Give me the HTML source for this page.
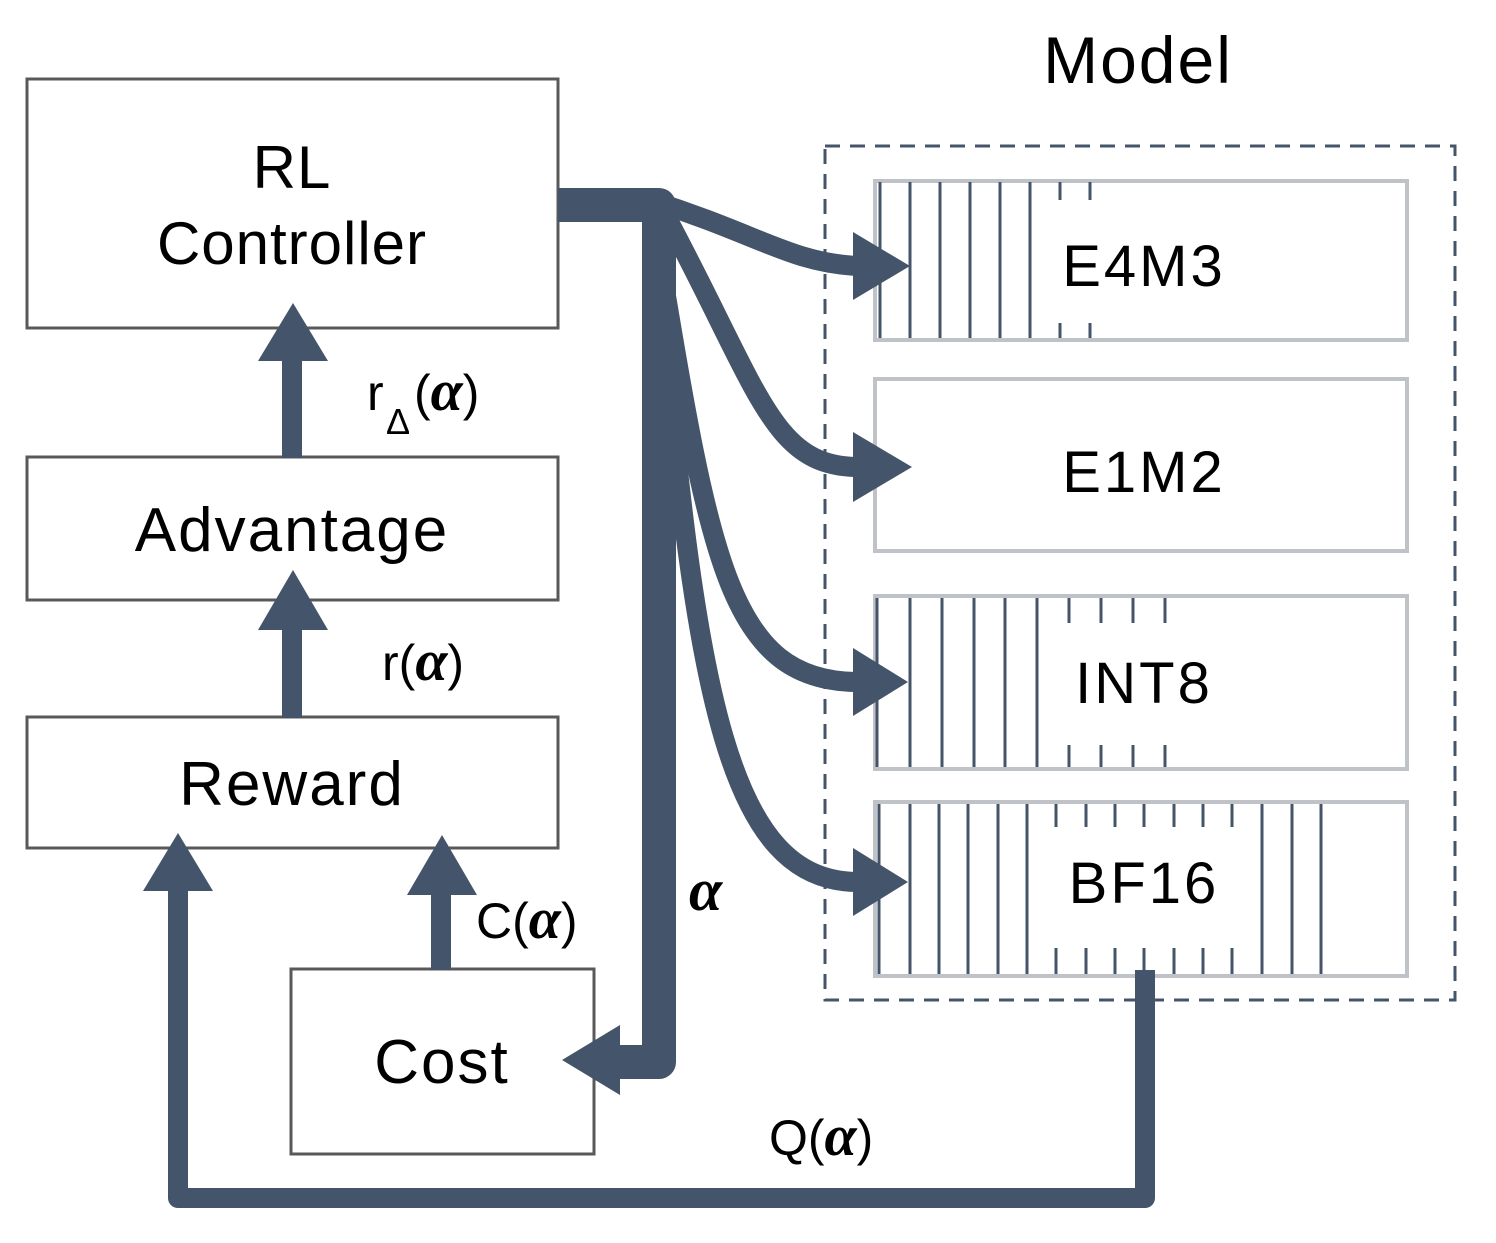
<!DOCTYPE html>
<html><head><meta charset="utf-8"><style>
html,body{margin:0;padding:0;background:#fff;}
svg{display:block;}
text{font-family:"Liberation Sans",sans-serif;fill:#000;}
.a{font-family:"Liberation Serif",serif;font-weight:bold;font-style:italic;font-size:58px;}
</style></head><body>
<svg width="1496" height="1243" viewBox="0 0 1496 1243" xmlns="http://www.w3.org/2000/svg">
<g fill="none" stroke="#595959" stroke-width="3">
<rect x="27" y="79" width="531" height="249"/>
<rect x="27" y="457" width="531" height="143"/>
<rect x="27" y="717" width="531" height="131"/>
<rect x="291" y="969" width="303" height="185"/>
</g>
<rect x="825" y="146" width="630" height="854" fill="none" stroke="#44546a" stroke-width="3" stroke-dasharray="15,10"/>
<g fill="none" stroke="#bfc3c8" stroke-width="4">
<rect x="875" y="181" width="532" height="159"/>
<rect x="875" y="379" width="532" height="172"/>
<rect x="875" y="596" width="532" height="173"/>
<rect x="875" y="802" width="532" height="174"/>
</g>
<g stroke="#44546a" stroke-width="3">
<path d="M880 182V338M910 182V338M940 182V338M970 182V338M1000 182V338M1030 182V338"/>
<path d="M1060 182V200M1090 182V200M1060 323V338M1090 323V338"/>
<path d="M877 598V767M910 598V767M942 598V767M974 598V767M1005 598V767M1037 598V767"/>
<path d="M1069 598V623M1101 598V623M1133 598V623M1165 598V623M1069 745V767M1101 745V767M1133 745V767M1165 745V767"/>
<path d="M879 804V974M910 804V974M939 804V974M968 804V974M998 804V974M1027 804V974M1262 804V974M1292 804V974M1321 804V974"/>
<path d="M1056 804V827M1086 804V827M1115 804V827M1144 804V827M1174 804V827M1203 804V827M1232 804V827"/>
<path d="M1056 948V974M1086 948V974M1115 948V974M1144 948V974M1174 948V974M1203 948V974M1232 948V974"/>
</g>
<g fill="#44546a">
<rect x="282" y="358" width="20" height="100"/>
<polygon points="258,361 328,361 293,303"/>
<rect x="282" y="628" width="20" height="90"/>
<polygon points="258,630 328,630 293,570"/>
<rect x="431" y="892" width="20" height="78"/>
<polygon points="407,895 477,895 442,835"/>
<polygon points="143,891 213,891 178,833"/>
<polygon points="620,1025 620,1095 562,1060"/>
<polygon points="853,232 853,300 910,266"/>
<polygon points="853,432 853,502 912,467"/>
<polygon points="853,648 853,716 908,682"/>
<polygon points="853,848 853,916 908,882"/>
</g>
<g fill="none" stroke="#44546a" stroke-linejoin="round">
<g stroke-width="20">
<path d="M650 200 C760 235 790 262 856 266"/>
<path d="M660 205 C760 390 770 465 856 467"/>
<path d="M660 260 C710 560 730 680 856 682"/>
<path d="M660 280 C695 700 730 880 856 882"/>
</g>
<path d="M558 205 H659 V1062 H618" stroke-width="34"/>
<path d="M1145 970 V1198 H178 V888" stroke-width="20"/>
</g>
<text x="1138" y="83" font-size="66" text-anchor="middle" letter-spacing="2">Model</text>
<text x="292" y="188" font-size="60" text-anchor="middle" letter-spacing="1">RL</text>
<text x="292" y="264" font-size="60" text-anchor="middle" letter-spacing="1">Controller</text>
<text x="292" y="551" font-size="62" text-anchor="middle" letter-spacing="2">Advantage</text>
<text x="292" y="805" font-size="62" text-anchor="middle" letter-spacing="2">Reward</text>
<text x="442" y="1083" font-size="62" text-anchor="middle" letter-spacing="2">Cost</text>
<text x="1144" y="286" font-size="58" text-anchor="middle" letter-spacing="3">E4M3</text>
<text x="1144" y="492" font-size="58" text-anchor="middle" letter-spacing="3">E1M2</text>
<text x="1144" y="703" font-size="58" text-anchor="middle" letter-spacing="3">INT8</text>
<text x="1144" y="903" font-size="58" text-anchor="middle" letter-spacing="3">BF16</text>
<text x="367" y="410" font-size="50">r</text>
<text x="386" y="434" font-size="36">Δ</text>
<text x="414" y="410" font-size="50">(<tspan class="a">α</tspan>)</text>
<text x="382" y="680" font-size="50">r(<tspan class="a">α</tspan>)</text>
<text x="476" y="938" font-size="50">C(<tspan class="a">α</tspan>)</text>
<text x="769" y="1155" font-size="50">Q(<tspan class="a">α</tspan>)</text>
<text x="689" y="910" class="a" style="font-size:60px">α</text>
</svg>
</body></html>
